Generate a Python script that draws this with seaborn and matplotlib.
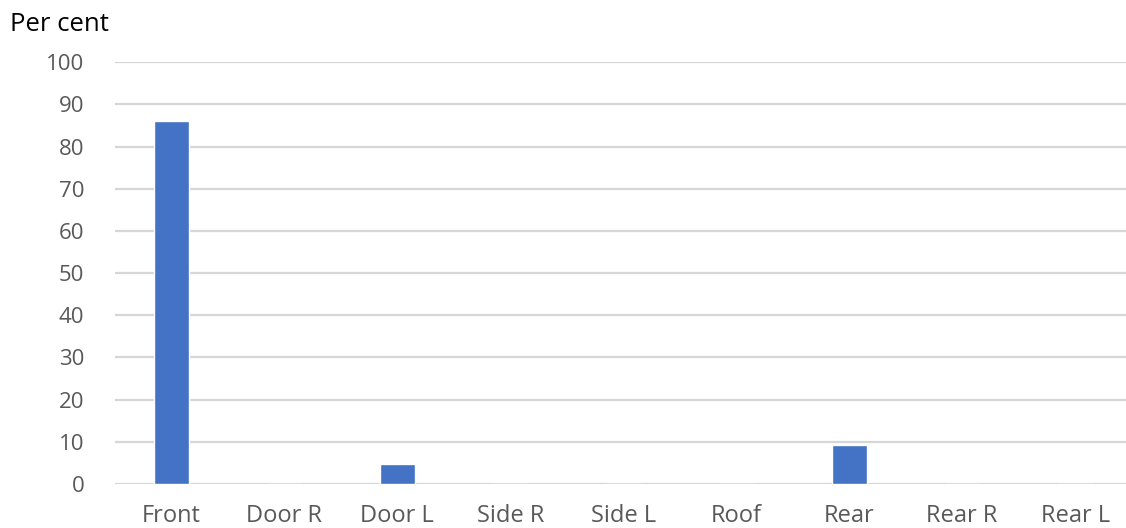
import matplotlib
matplotlib.use("Agg")
import matplotlib.pyplot as plt
import seaborn as sns
import pandas as pd

categories = ["Front", "Door R", "Door L", "Side R", "Side L", "Roof", "Rear", "Rear R", "Rear L"]
values = [86.0, 0, 4.7, 0, 0, 0, 9.3, 0, 0]
y_ticks = [0, 10, 20, 30, 40, 50, 60, 70, 80, 90, 100]

sns.set_theme(style="white")
plt.rcParams["font.family"] = ["Open Sans", "DejaVu Sans"]

df = pd.DataFrame({"location": categories, "share": values})

fig = plt.figure(figsize=(11.26, 5.28), dpi=100)
ax = fig.add_axes([0.102, 0.0833, 0.903, 0.799])

sns.barplot(data=df, x="location", y="share", color="#4472C4", width=0.31,
            saturation=1, ax=ax, zorder=3)

ax.set_ylim(0, 100)
ax.set_yticks(y_ticks)
ax.set_xlim(-0.5, len(categories) - 0.5)
ax.yaxis.grid(True, color="#d6d6d6", linewidth=1.6, zorder=0)
ax.set_axisbelow(True)
for s in ax.spines.values():
    s.set_visible(False)
ax.tick_params(axis="y", length=0, labelsize=16, labelcolor="#595959", pad=22)
ax.tick_params(axis="x", length=0, labelsize=17, labelcolor="#595959", pad=14.5)
ax.set_xlabel("")
ax.set_ylabel("")

fig.text(0.009, 0.953, "Per cent", fontsize=18.5, color="#000000", va="center", ha="left")

fig.savefig("out.png", dpi=100)
